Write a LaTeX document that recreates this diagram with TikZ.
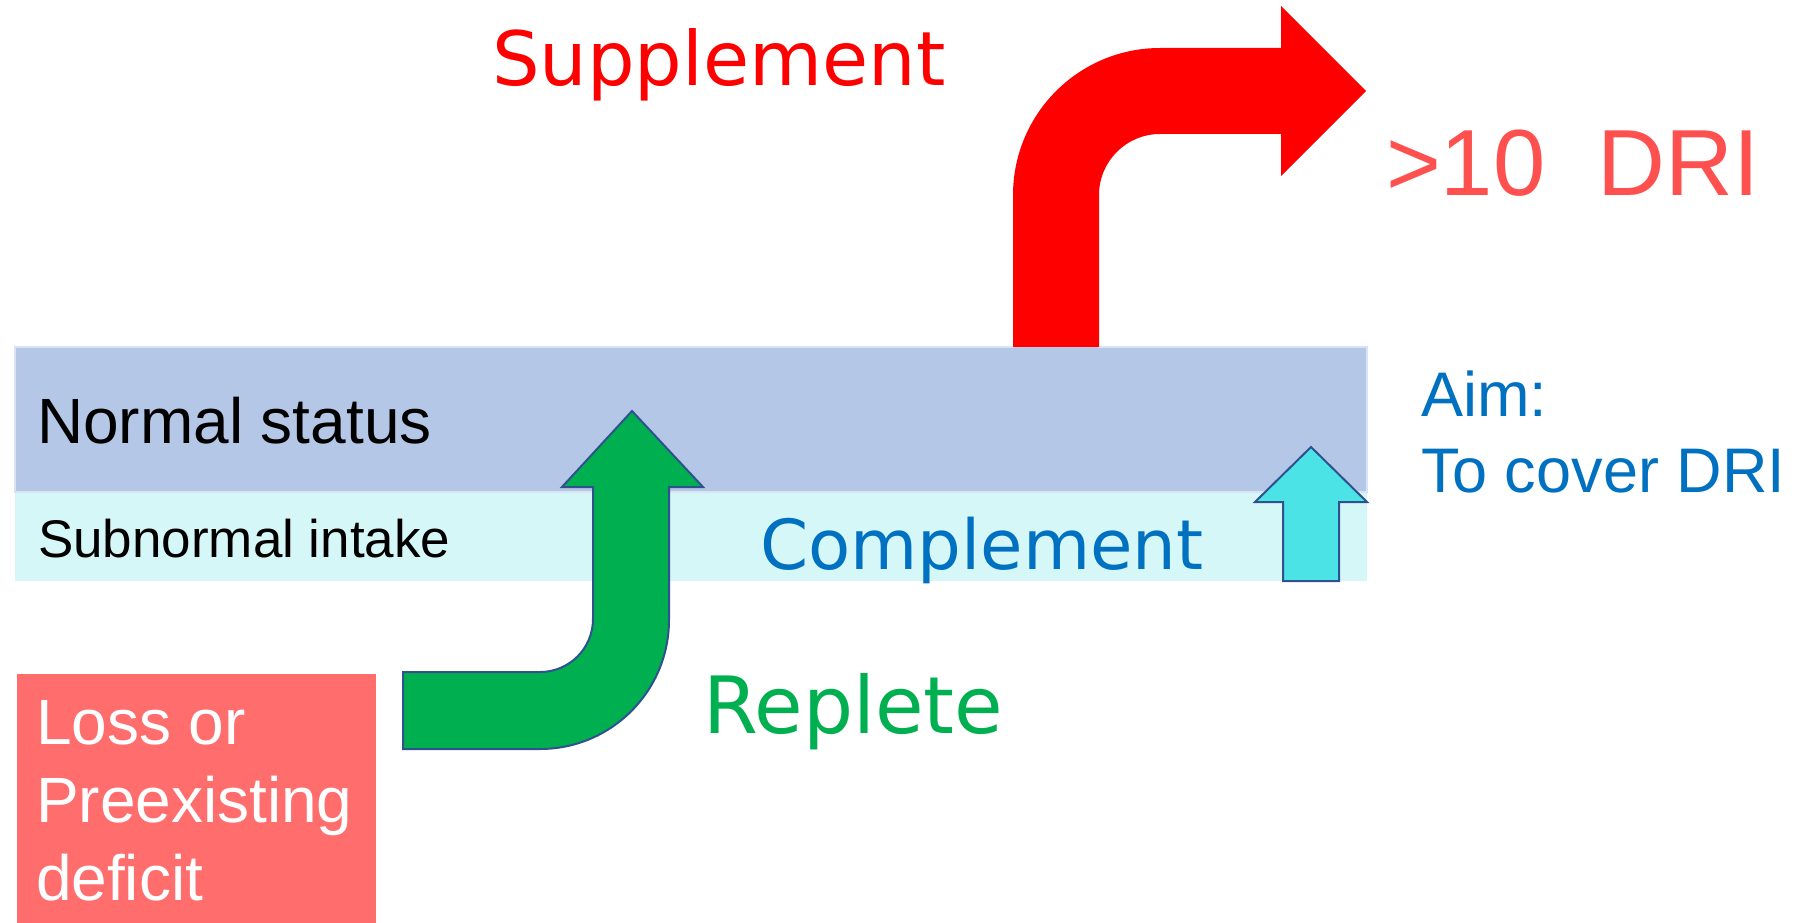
\documentclass[tikz,border=0pt]{standalone}
\usepackage{fontspec}
\setmainfont{Liberation Sans}
\newfontfamily\comicfont{DejaVu Sans}
\definecolor{bandblue}{HTML}{B4C7E7}
\definecolor{bandedge}{HTML}{DAE3F3}
\definecolor{bandcyan}{HTML}{D6F7F8}
\definecolor{replgreen}{HTML}{00B050}
\definecolor{arrowedge}{HTML}{2F528F}
\definecolor{compcyan}{HTML}{4BE3E6}
\definecolor{lossred}{HTML}{FF6D6D}
\definecolor{drired}{HTML}{FF5050}
\definecolor{aimblue}{HTML}{0070C0}
\tikzset{
  txt/.style={anchor=base west, inner sep=0pt, outer sep=0pt},
  fsz/.style={font=\fontsize{#1}{#1}\selectfont},
  bigarrow/.style={draw=arrowedge, line width=2pt, line join=miter}
}
\begin{document}
\begin{tikzpicture}[x=1pt, y=-1pt]
\useasboundingbox (0,0) rectangle (1801,923);
% bands
\fill[bandcyan] (15,492) rectangle (1367,581);
\filldraw[fill=bandblue, draw=bandedge, line width=2pt] (15,347) rectangle (1367,492);
\node[txt, fsz=64] (normal) at (37,443) {Normal status};
\node[txt, fsz=53] (subnormal) at (38,557) {Subnormal intake};
% red supplement arrow
\fill[red] (1013,347) -- (1013,195) arc[start angle=180, end angle=270, radius=147]
  -- (1281,48) -- (1281,6) -- (1366,91) -- (1281,176) -- (1281,134) -- (1160,134)
  arc[start angle=270, end angle=180, radius=61] -- (1099,347) -- cycle;
% green replete arrow
\filldraw[bigarrow, fill=replgreen] (403,672) -- (540,672) arc[start angle=90, end angle=0, radius=53]
  -- (593,487) -- (562,487) -- (632,411) -- (703,487) -- (669,487) -- (669,620)
  arc[start angle=0, end angle=90, radius=129] -- (403,749) -- cycle;
% cyan complement arrow
\filldraw[bigarrow, fill=compcyan] (1283,581) -- (1283,502) -- (1255,502) -- (1311,447)
  -- (1367,502) -- (1339,502) -- (1339,581) -- cycle;
% loss box
\node[fill=lossred, minimum width=359pt, minimum height=249pt, inner sep=0pt, anchor=north west] (loss) at (17,674) {};
\node[txt, text=white, align=left, anchor=north west, font=\fontsize{64}{78}\selectfont] (losstext) at (36,700) {Loss or\\Preexisting\\deficit};
% labels
\node[txt, text=red, font=\comicfont\fontsize{75}{75}\selectfont] (supp) at (492,86) {Supplement};
\node[txt, text=aimblue, font=\comicfont\fontsize{69}{69}\selectfont] (comp) at (760,569) {Complement};
\node[txt, text=replgreen, font=\comicfont\fontsize{79}{79}\selectfont] (repl) at (703,733) {Replete};
\node[txt, text=drired, fsz=94] (dri) at (1386,195) {>10\ \ DRI};
\node[txt, text=aimblue, fsz=63] (aim) at (1421,416) {Aim:};
\node[txt, text=aimblue, fsz=63] (cover) at (1421,492) {To cover DRI};
\end{tikzpicture}
\end{document}
